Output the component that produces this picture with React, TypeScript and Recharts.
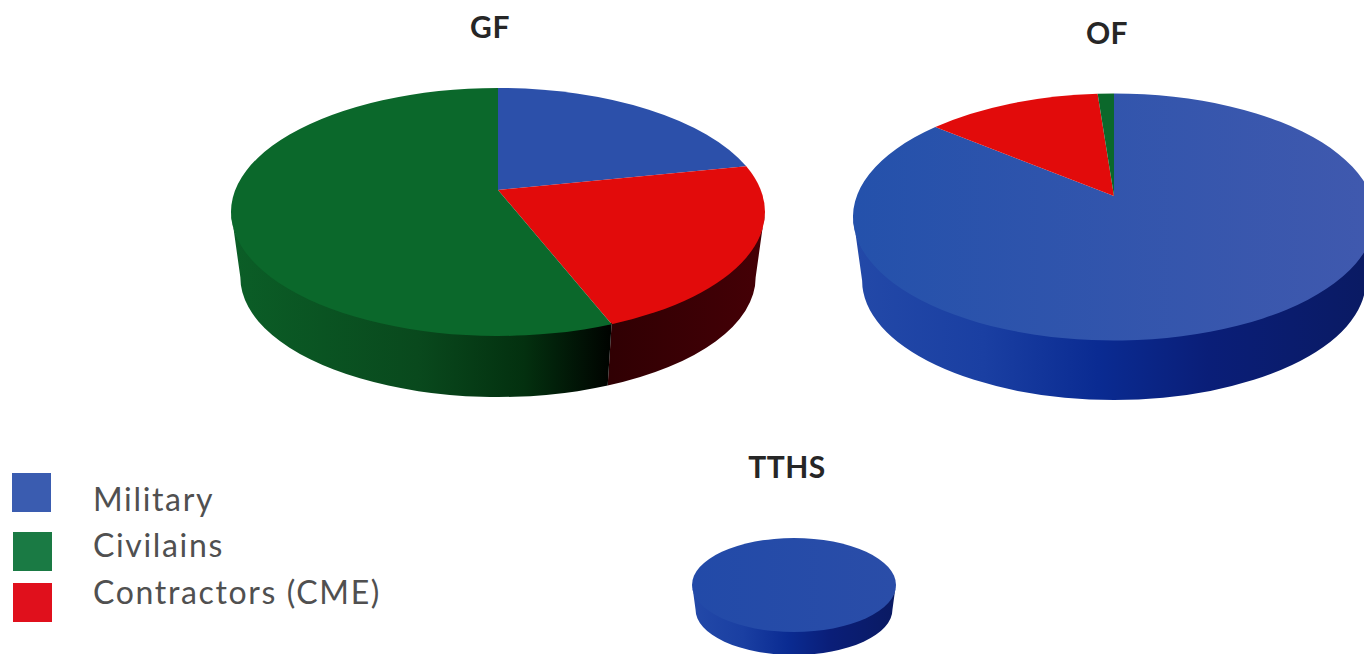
import { Pie, PieChart } from 'recharts';

const CATEGORIES = ['Military', 'Contractors (CME)', 'Civilains'];
const GF_VALUES = [19, 24, 57];
const OF_VALUES = [88, 11, 1];
const TTHS_VALUES = [100, 0, 0];

const LEGEND_ORDER = ['Military', 'Civilains', 'Contractors (CME)'];
const COLORS: Record<string, string> = {
  Military: '#2c50aa',
  Civilains: '#0b682b',
  'Contractors (CME)': '#e20b0b',
};
const LEGEND_COLORS: Record<string, string> = {
  Military: '#3a5cb0',
  Civilains: '#1a7a44',
  'Contractors (CME)': '#e0101c',
};

type Stop = [number, string];

// side wall shading, left to right across the whole disc
const BLUE_WALL: Stop[] = [
  [0, '#2349a8'],
  [0.25, '#1a3fa2'],
  [0.47, '#0a2b92'],
  [0.68, '#0a1e78'],
  [1, '#0a1a62'],
];
const GREEN_WALL: Stop[] = [
  [0, '#0b5e27'],
  [0.35, '#09491d'],
  [0.55, '#03300f'],
  [0.71, '#000300'],
];
const RED_WALL: Stop[] = [
  [0.71, '#300003'],
  [1, '#450006'],
];
const WALLS: Record<string, Stop[]> = {
  Military: BLUE_WALL,
  Civilains: GREEN_WALL,
  'Contractors (CME)': RED_WALL,
};

const toRows = (values: number[]) =>
  CATEGORIES.map((name, i) => ({ name, value: values[i], fill: COLORS[name] }));

interface Disc {
  id: string;
  cx: number;
  cy: number;
  rx: number;
  ry: number;
  apexY: number;
  bottomY: number;
  militaryFace: [string, string];
}

const GF: Disc = {
  id: 'gf',
  cx: 498,
  cy: 212,
  rx: 267,
  ry: 124,
  apexY: 190,
  bottomY: 397,
  militaryFace: ['#2c50aa', '#2c50aa'],
};
const OF: Disc = {
  id: 'of',
  cx: 1114,
  cy: 217,
  rx: 261,
  ry: 123.5,
  apexY: 196,
  bottomY: 400,
  militaryFace: ['#2451ab', '#4059ae'],
};
const TTHS: Disc = {
  id: 'tths',
  cx: 794,
  cy: 585,
  rx: 102,
  ry: 47,
  apexY: 585,
  bottomY: 655,
  militaryFace: ['#224aa8', '#2a4da8'],
};

// the lower rim sits further away from the eye, so it is a little narrower
const BASE_SCALE = 0.965;
// wall tucks under the face so no light seam shows along the rim
const WALL_OVERLAP = 1.5;

// Pie hands over circular sectors; this redraws each as a tilted slice with its wall
const tiltedSlice = (disc: Disc) => (props: any) => {
  const { startAngle, endAngle, fill, name, index } = props;
  const { id, cx, cy, rx, ry, apexY, bottomY, militaryFace } = disc;
  const from = 90 - startAngle;
  const to = 90 - endAngle;
  if (to - from <= 0) return <g />;

  const rim = (t: number, y0 = cy) => {
    const rad = (t * Math.PI) / 180;
    return `${cx + rx * Math.sin(rad)} ${y0 - ry * Math.cos(rad)}`;
  };
  const baseRx = rx * BASE_SCALE;
  const baseRy = ry * BASE_SCALE;
  const baseCy = bottomY - baseRy;
  const base = (t: number) => {
    const rad = (t * Math.PI) / 180;
    return `${cx + baseRx * Math.sin(rad)} ${baseCy - baseRy * Math.cos(rad)}`;
  };

  const whole = to - from >= 359.9;
  const face = whole
    ? `M ${rim(0)} A ${rx} ${ry} 0 1 1 ${rim(180)} A ${rx} ${ry} 0 1 1 ${rim(0)} Z`
    : `M ${cx} ${apexY} L ${rim(from)} A ${rx} ${ry} 0 ${to - from > 180 ? 1 : 0} 1 ${rim(to)} Z`;

  // only the part of the rim facing the viewer has a visible wall
  const w0 = Math.max(from, 90);
  const w1 = Math.min(to, 270);
  const wallId = `${id}-wall-${index}`;
  const faceId = `${id}-face-${index}`;
  const wallTop = cy - WALL_OVERLAP;

  return (
    <g>
      {name === 'Military' && (
        <linearGradient id={faceId} gradientUnits="userSpaceOnUse" x1={cx - rx} x2={cx + rx} y1={0} y2={0}>
          <stop offset={0} stopColor={militaryFace[0]} />
          <stop offset={1} stopColor={militaryFace[1]} />
        </linearGradient>
      )}
      {w1 > w0 && (
        <>
          <linearGradient id={wallId} gradientUnits="userSpaceOnUse" x1={cx - rx} x2={cx + rx} y1={0} y2={0}>
            {WALLS[name].map(([offset, color]) => (
              <stop key={offset} offset={offset} stopColor={color} />
            ))}
          </linearGradient>
          <path
            d={`M ${rim(w0, wallTop)} A ${rx} ${ry} 0 0 1 ${rim(w1, wallTop)} L ${base(w1)} A ${baseRx} ${baseRy} 0 0 0 ${base(w0)} Z`}
            fill={`url(#${wallId})`}
          />
        </>
      )}
      <path d={face} fill={name === 'Military' ? `url(#${faceId})` : fill} />
    </g>
  );
};

const renderPie = (disc: Disc, values: number[]) => (
  <Pie
    key={disc.id}
    data={toRows(values)}
    dataKey="value"
    nameKey="name"
    cx={disc.cx}
    cy={disc.cy}
    outerRadius={disc.rx}
    startAngle={90}
    endAngle={-270}
    stroke="none"
    legendType="none"
    shape={tiltedSlice(disc)}
    isAnimationActive={false}
  />
);

const TITLE_STYLE = { fontFamily: 'Lato', fontSize: 30, fontWeight: 700, fill: '#262626', letterSpacing: 0.5 };
const LEGEND_TEXT = { fontFamily: 'Lato', fontSize: 32, fill: '#505050', letterSpacing: 1.65 };
const SWATCHES = [
  { x: 12, y: 473, textY: 511 },
  { x: 13, y: 532, textY: 557 },
  { x: 13, y: 583, textY: 604 },
];

export default function App() {
  return (
    <div style={{ position: 'absolute', left: 0, top: 0, width: 1364, height: 654, background: '#fff' }}>
      <PieChart width={1364} height={654} margin={{ top: 0, right: 0, bottom: 0, left: 0 }}>
        {renderPie(GF, GF_VALUES)}
        {renderPie(OF, OF_VALUES)}
        {renderPie(TTHS, TTHS_VALUES)}

        <text x={490} y={38} textAnchor="middle" {...TITLE_STYLE}>GF</text>
        <text x={1107} y={44} textAnchor="middle" {...TITLE_STYLE}>OF</text>
        <text x={787} y={478} textAnchor="middle" {...TITLE_STYLE}>TTHS</text>

        {LEGEND_ORDER.map((name, i) => (
          <g key={name}>
            <rect x={SWATCHES[i].x} y={SWATCHES[i].y} width={39} height={39} fill={LEGEND_COLORS[name]} />
            <text x={93} y={SWATCHES[i].textY} {...LEGEND_TEXT}>{name}</text>
          </g>
        ))}
      </PieChart>
    </div>
  );
}
